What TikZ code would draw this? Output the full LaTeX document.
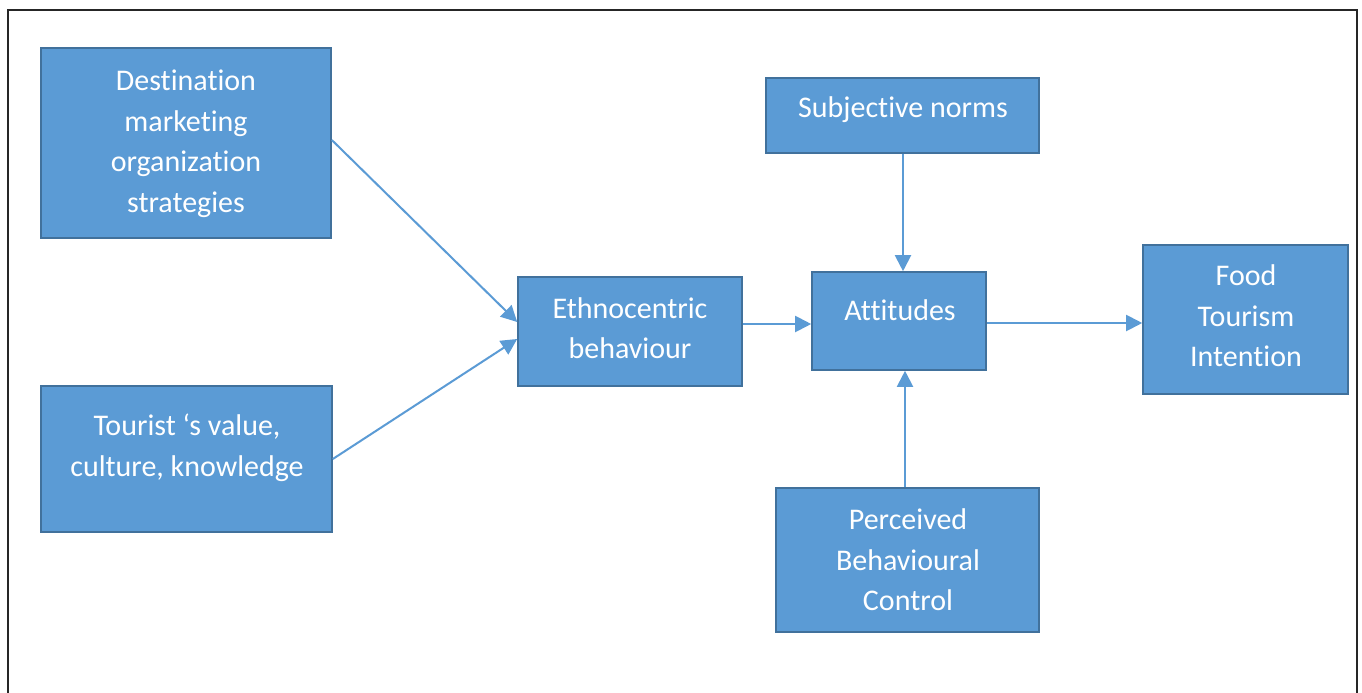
\documentclass[tikz,border=0pt]{standalone}
\usepackage{fontspec}
\setmainfont{Carlito}[Ligatures=NoCommon]
\usetikzlibrary{arrows.meta,fit}
\definecolor{boxfill}{HTML}{5B9BD5}
\definecolor{boxline}{HTML}{41719C}
\definecolor{arrowc}{HTML}{5B9BD5}
\tikzset{
  boxnode/.style={draw=boxline, fill=boxfill, line width=1.6pt, inner sep=0pt, rectangle},
  txt/.style={text=white, align=center, inner sep=0pt, font=\fontsize{30}{40.5}\selectfont},
  conn/.style={draw=arrowc, line width=2pt, -{Triangle[length=16pt,width=16pt]}}
}
\begin{document}
\begin{tikzpicture}[x=1pt,y=-1pt]
\useasboundingbox (0,0) rectangle (1362,693);
\fill[white] (0,0) rectangle (1362,693);
\draw[black!85, line width=2.4pt] (8,730) -- (8,10) -- (1357,10) -- (1357,730);

% boxes
\node[boxnode, fit={(41,48) (331,238)}] (dmo) {};
\node[boxnode, fit={(41,386) (332,532)}] (tour) {};
\node[boxnode, fit={(518,277) (742,386)}] (ethno) {};
\node[boxnode, fit={(812,272) (986,370)}] (att) {};
\node[boxnode, fit={(766,78) (1039,153)}] (subj) {};
\node[boxnode, fit={(776,488) (1039,632)}] (pbc) {};
\node[boxnode, fit={(1143,245) (1348,394)}] (food) {};

% texts
\node[txt] (dmot) at (186,144) {Destination\\marketing\\organization\\strategies};
\node[txt] (tourt) at (187,448) {Tourist ‘s value,\\culture, knowledge};
\node[txt] (ethnot) at (630,328) {Ethnocentric\\behaviour};
\node[txt] (attt) at (900,310) {Attitudes};
\node[txt] (subjt) at (903,110) {Subjective norms};
\node[txt] (pbct) at (908,560) {Perceived\\Behavioural\\Control};
\node[txt] (foodt) at (1246,316) {Food\\Tourism\\Intention};

% connectors
\draw[conn] (dmo.east |- 0,140) -- (ethno.west |- 0,322);
\draw[conn] (tour.east |- 0,459) -- (ethno.west |- 0,339);
\draw[conn] (ethno.east |- 0,324) -- (att.west |- 0,324);
\draw[conn] (subj.south -| 903,0) -- (att.north -| 903,0);
\draw[conn] (pbc.north -| 905,0) -- (att.south -| 905,0);
\draw[conn] (att.east |- 0,323) -- (food.west |- 0,323);
\end{tikzpicture}
\end{document}
